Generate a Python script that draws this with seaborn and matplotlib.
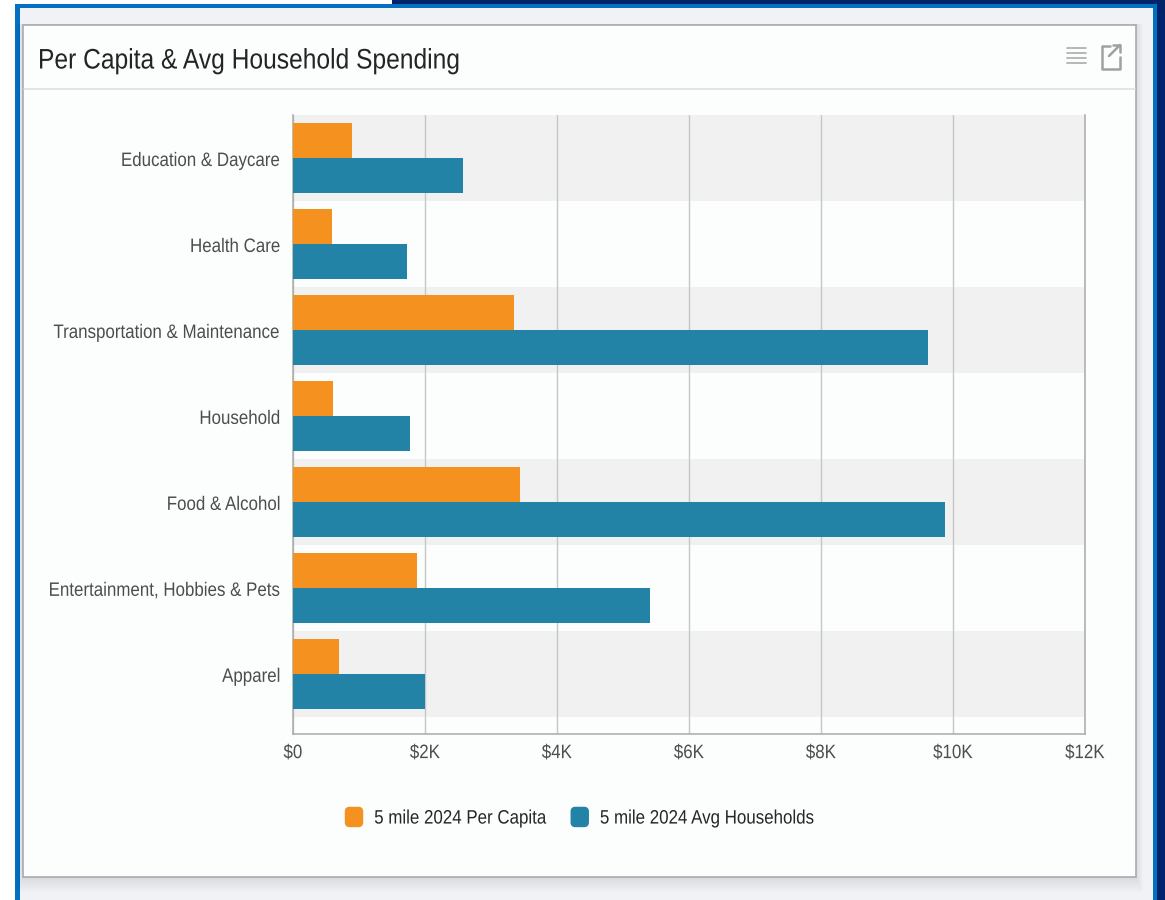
import matplotlib
matplotlib.use('Agg')
import matplotlib.pyplot as plt
import matplotlib.patches as mpatches
from matplotlib.legend_handler import HandlerPatch
from matplotlib.patheffects import AbstractPathEffect
from matplotlib.transforms import Affine2D
import pandas as pd
import seaborn as sns

categories = ["Education & Daycare", "Health Care", "Transportation & Maintenance",
              "Household", "Food & Alcohol", "Entertainment, Hobbies & Pets", "Apparel"]
per_capita = [890, 590, 3350, 610, 3440, 1880, 700]
avg_households = [2570, 1730, 9620, 1780, 9880, 5410, 2000]
series_names = ["5 mile 2024 Per Capita", "5 mile 2024 Avg Households"]
series_colors = ["#F5911F", "#2283A6"]
x_ticks = [0, 2000, 4000, 6000, 8000, 10000, 12000]
x_tick_labels = ["$0", "$2K", "$4K", "$6K", "$8K", "$10K", "$12K"]

W, H = 1165, 900
TEXT = "#4d4d4d"
SQUEEZE = 0.87  # the screenshot's text is narrower than any installed font

sns.set_theme(style="white")
plt.rcParams['font.family'] = ['Liberation Sans', 'DejaVu Sans']


class Squeeze(AbstractPathEffect):
    # squeeze a text sideways around a fixed pixel x, and nudge it vertically
    def __init__(self, x0, dy=0):
        super().__init__()
        self.x0 = x0
        self.dy = dy

    def draw_path(self, renderer, gc, tpath, affine, rgbFace=None):
        t = Affine2D().translate(-self.x0, 0).scale(SQUEEZE, 1).translate(self.x0, self.dy)
        renderer.draw_path(gc, tpath, affine + t, rgbFace)


def squeeze_text(text, side, dy=0):
    box = text.get_window_extent()
    x0 = {"left": box.x0, "right": box.x1, "center": (box.x0 + box.x1) / 2}[side]
    text.set_path_effects([Squeeze(x0, dy)])


df = pd.DataFrame({
    "category": categories * 2,
    "series": [series_names[0]] * len(categories) + [series_names[1]] * len(categories),
    "value": per_capita + avg_households,
})

fig = plt.figure(figsize=(W / 100, H / 100), dpi=100, facecolor="white")

# page frame and card, in pixel coordinates
bg = fig.add_axes([0, 0, 1, 1], zorder=0)
bg.set_xlim(0, W)
bg.set_ylim(H, 0)
bg.axis("off")


def rect(x0, y0, x1, y1, **kw):
    bg.add_patch(mpatches.Rectangle((x0, y0), x1 - x0, y1 - y0, linewidth=kw.pop("lw", 0), **kw))


rect(392, 0, W, 5, color="#00246B")
rect(1157, 0, W, H, color="#00246B")
rect(15, 4, 1157, H, color="#0470C1")
rect(20, 8, 1153, H, color="#F1F2F5")
for i in range(8):
    rect(23 - i, 24, 1136 + i, 878 + i * 2, color="#000000", alpha=0.012)
rect(23, 24.5, 1135.5, 877, facecolor="#FCFDFD", edgecolor="#A3A5A8", lw=1.1)
bg.plot([24, 1135], [89, 89], color="#DEDFDF", lw=1.2)
title = bg.text(38, 60, "Per Capita & Avg Household Spending", fontsize=20.35, color="#242424",
                va="center", ha="left")

# header icons
for y in [48, 53, 58, 63]:
    bg.plot([1067, 1069.5], [y, y], color="#ABABAB", lw=1.2)
    bg.plot([1071, 1086], [y, y], color="#ABABAB", lw=1.2)
bg.plot([1110, 1102, 1102, 1120, 1120], [45.5, 45.5, 68.5, 68.5, 57], color="#A0A0A0", lw=1.8)
bg.plot([1109, 1120], [56, 45], color="#A0A0A0", lw=1.8)
bg.plot([1113, 1120, 1120], [45, 45, 52], color="#A0A0A0", lw=1.8)

# plot area: x 293-1085, y 115-734
ax = fig.add_axes([293 / W, 1 - 734 / H, (1085 - 293) / W, (734 - 115) / H], zorder=1)
ax.patch.set_alpha(0)
sns.barplot(data=df, y="category", x="value", hue="series", hue_order=series_names,
            palette=series_colors, order=categories, width=0.814, gap=0, saturation=1,
            legend=False, ax=ax, zorder=3, linewidth=0)
for i in range(0, len(categories), 2):
    ax.axhspan(i - 0.5, i + 0.5, color="#F1F1F1", lw=0, zorder=0)
ax.set_xlim(0, 12000)
ax.set_ylim(6.70, -0.5)
ax.set_xticks(x_ticks)
ax.set_xticklabels(x_tick_labels)
ax.xaxis.grid(True, color="#C5C7C7", lw=1.0, zorder=1)
ax.set_axisbelow(True)
ax.set_xlabel("")
ax.set_ylabel("")
ax.tick_params(axis="x", length=0, pad=8, labelsize=14, labelcolor=TEXT)
ax.tick_params(axis="y", length=0, pad=8.7, labelsize=14, labelcolor=TEXT)
ax.spines["top"].set_visible(False)
for side in ["left", "bottom", "right"]:
    ax.spines[side].set_color("#A9ABAB")
    ax.spines[side].set_linewidth(1.1)


def rounded_patch(legend, orig_handle, xdescent, ydescent, width, height, fontsize):
    return mpatches.FancyBboxPatch((-xdescent + 2, -ydescent + 2), width - 4, height - 4,
                                   boxstyle="round,pad=2,rounding_size=3", linewidth=0)


handles = [mpatches.Patch(color=c, label=n) for c, n in zip(series_colors, series_names)]
leg = fig.legend(handles=handles, loc="center left", bbox_to_anchor=(345.5 / W, 1 - 817.5 / H),
                 ncol=2, frameon=False, fontsize=14, handlelength=0.875, handleheight=1.13,
                 handletextpad=0.6, columnspacing=-0.1, borderpad=0, borderaxespad=0,
                 handler_map={mpatches.Patch: HandlerPatch(patch_func=rounded_patch)})
for t in leg.get_texts():
    t.set_color("#262626")

# narrow the text once the layout is known
fig.canvas.draw()
squeeze_text(title, "left", dy=-1.5)
for t in ax.get_yticklabels():
    squeeze_text(t, "right", dy=-1.5)
for t in ax.get_xticklabels():
    squeeze_text(t, "center")
for t in leg.get_texts():
    squeeze_text(t, "left")

fig.savefig("out.png", dpi=100)
